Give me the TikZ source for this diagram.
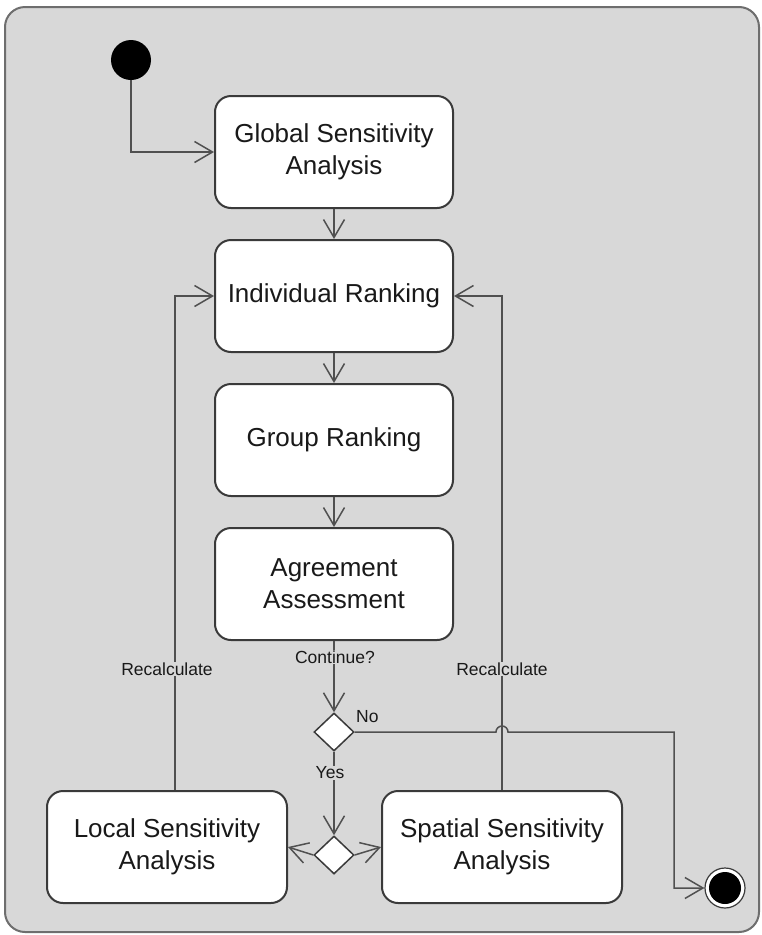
\documentclass[tikz,border=0pt]{standalone}
\usepackage{fontspec}
\setmainfont{Liberation Sans}
\usetikzlibrary{arrows.meta,shapes.geometric,calc}
\definecolor{bgc}{RGB}{216,216,216}
\definecolor{framec}{RGB}{110,110,110}
\definecolor{boxc}{RGB}{58,58,58}
\definecolor{connc}{RGB}{80,80,80}
\definecolor{txtc}{RGB}{25,25,25}
\tikzset{
  actbox/.style={draw=boxc, line width=2pt, fill=white, rounded corners=16pt,
    minimum width=238pt, minimum height=112pt, align=center, inner sep=0pt,
    font=\fontsize{26}{32}\selectfont, text=txtc},
  decis/.style={diamond, draw=boxc, line width=1.5pt, fill=white,
    minimum width=40pt, minimum height=38pt, inner sep=0pt},
  conn/.style={draw=connc, line width=1.5pt},
  arr/.style={conn, -{Straight Barb[length=18pt,width=21pt,line width=1.5pt]}},
  lbl/.style={font=\fontsize{17.5}{20}\selectfont, text=txtc, inner sep=1pt},
  lblbg/.style={lbl, fill=bgc}
}
\begin{document}
\begin{tikzpicture}[x=1pt,y=-1pt]
\useasboundingbox (0,0) rectangle (762,935);
\fill[white] (0,0) rectangle (762,935);
\draw[draw=framec, line width=2pt, fill=bgc, rounded corners=20pt] (5,7) rectangle (759,932);

% nodes
\node[circle, fill=black, minimum size=40pt, inner sep=0pt] (start) at (131,60) {};
\node[actbox] (gsa) at (334,152) {Global Sensitivity\\Analysis};
\node[actbox] (ir) at (334,296) {Individual Ranking};
\node[actbox] (gr) at (334,440) {Group Ranking};
\node[actbox] (aa) at (334,584) {Agreement\\Assessment};
\node[decis] (d1) at (334,732) {};
\node[decis] (d2) at (334,855) {};
\node[actbox, minimum width=240pt] (lsa) at (167,847) {Local Sensitivity\\Analysis};
\node[actbox, minimum width=240pt] (ssa) at (502,847) {Spatial Sensitivity\\Analysis};
\node[circle, draw=boxc, line width=1.2pt, fill=white, minimum size=40pt, inner sep=0pt] (fin) at (725,888) {};
\node[circle, fill=black, minimum size=32pt, inner sep=0pt] at (fin.center) {};

\coordinate (lx) at (175,0);
\coordinate (nx) at (674,0);

% connectors
\draw[arr] (start.south) |- (gsa.west);
\draw[arr] (gsa.south) -- (ir.north);
\draw[arr] (ir.south) -- (gr.north);
\draw[arr] (gr.south) -- (aa.north);
\draw[arr] (aa.south) -- (d1.north);
\draw[arr] (d1.south) -- (d2.north);
\draw[arr] (d2.west) -- (lsa.east);
\draw[arr] (d2.east) -- (ssa.west);
\draw[arr] (lsa.north -| lx) |- (ir.west);
\draw[arr] (ssa.north) |- (ir.east);
\draw[arr] (d1.east) -- ($(d1.east -| ssa.north)+(-6,0)$)
  arc[start angle=180, end angle=0, radius=6pt]
  -- (d1.east -| nx) |- (fin.west);

% labels
\node[lblbg] (lc) at (335,657) {Continue?};
\node[lblbg] (ly) at (330,773) {Yes};
\node[lbl, anchor=west] (ln) at (355,717) {No};
\node[lblbg] (lr1) at (167,669) {Recalculate};
\node[lblbg] (lr2) at (502,669) {Recalculate};
\end{tikzpicture}
\end{document}
